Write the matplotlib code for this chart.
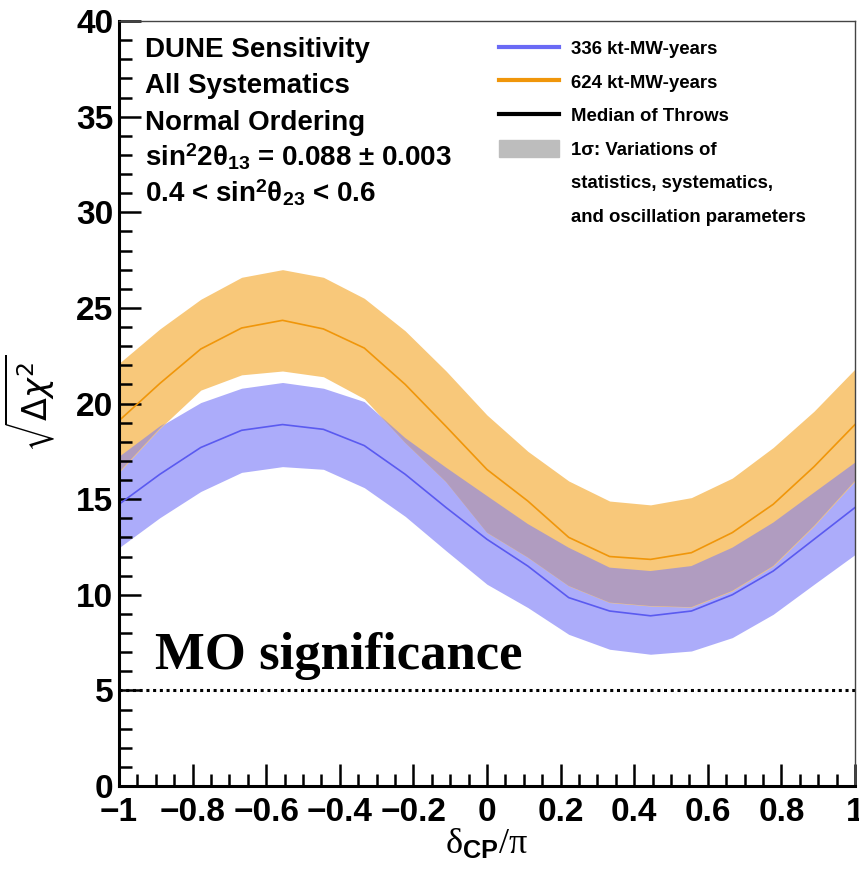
import numpy as np
import matplotlib
matplotlib.use("Agg")
import matplotlib.pyplot as plt
from matplotlib.lines import Line2D
from matplotlib.patches import Patch

plt.rcParams['font.family'] = ['Liberation Sans', 'DejaVu Sans']
plt.rcParams['mathtext.fontset'] = 'custom'
plt.rcParams['mathtext.rm'] = 'Liberation Serif'
plt.rcParams['mathtext.it'] = 'Liberation Serif:italic'
plt.rcParams['mathtext.bf'] = 'Liberation Sans:bold'
plt.rcParams['mathtext.sf'] = 'Liberation Sans'

# delta_CP / pi grid (19 points)
delta = np.linspace(-1, 1, 19)

# 624 kt-MW-years
orange_mid = [19.1, 21.05, 22.85, 23.95, 24.35, 23.9, 22.9, 21.0, 18.8, 16.55,
              14.9, 13.0, 12.0, 11.85, 12.2, 13.25, 14.73, 16.7, 18.9]
orange_hi = [22.1, 23.9, 25.45, 26.6, 27.0, 26.6, 25.5, 23.8, 21.7, 19.4,
             17.5, 15.95, 14.9, 14.7, 15.08, 16.1, 17.7, 19.6, 21.8]
orange_lo = [16.4, 18.7, 20.7, 21.5, 21.7, 21.4, 20.25, 17.95, 15.9, 13.25,
             11.95, 10.46, 9.59, 9.41, 9.35, 10.2, 11.5, 13.6, 15.95]

# 336 kt-MW-years
blue_mid = [14.73, 16.3, 17.7, 18.6, 18.9, 18.65, 17.8, 16.3, 14.56, 12.9,
            11.5, 9.85, 9.15, 8.9, 9.15, 10.0, 11.24, 12.9, 14.56]
blue_hi = [17.2, 18.8, 20.05, 20.8, 21.1, 20.8, 20.1, 18.2, 16.65, 15.17,
           13.7, 12.46, 11.42, 11.24, 11.5, 12.46, 13.77, 15.34, 16.9]
blue_lo = [12.46, 14.03, 15.4, 16.4, 16.7, 16.56, 15.6, 14.1, 12.3, 10.55,
           9.33, 7.93, 7.15, 6.89, 7.06, 7.76, 8.98, 10.55, 12.1]

mo_level = 5

fig = plt.figure(figsize=(8.59, 8.69), dpi=100)
ax = fig.add_axes([0.1385, 0.0955, 0.8568, 0.8803])

ax.fill_between(delta, blue_lo, blue_hi, color='#acacfa', lw=0)
ax.fill_between(delta, orange_lo, orange_hi, color='#f8c87a', lw=0)
bh = np.array(blue_hi)
ol = np.array(orange_lo)
ax.fill_between(delta, ol, bh, where=bh > ol, interpolate=True, color='#b09cc0', lw=0)
ax.plot(delta, blue_mid, color='#5a5af0', lw=1.2)
ax.plot(delta, orange_mid, color='#f0960a', lw=1.2)

ax.axhline(mo_level, color='black', ls=(0, (1, 1.2)), lw=2.2)

ax.set_xlim(-1, 1)
ax.set_ylim(0, 40)
ax.set_xticks(np.arange(-1, 1.01, 0.2))
ax.set_xticks(np.arange(-1, 1.01, 0.05), minor=True)
ax.set_yticks(np.arange(0, 41, 5))
ax.set_yticks(np.arange(0, 41, 1), minor=True)
ax.set_xticklabels(['\u22121', '\u22120.8', '\u22120.6', '\u22120.4', '\u22120.2',
                    '0', '0.2', '0.4', '0.6', '0.8', '1'])
ax.tick_params(which='both', direction='in', top=False, right=False, width=1.8)
ax.tick_params(which='major', length=16, labelsize=24)
ax.tick_params(axis='y', which='major', pad=4)
ax.tick_params(axis='x', which='major', pad=8)
ax.tick_params(which='minor', length=9)
for lab in ax.get_xticklabels() + ax.get_yticklabels():
    lab.set_fontweight('bold')

for s in ['left', 'bottom']:
    ax.spines[s].set_linewidth(2.2)
for s in ['top', 'right']:
    ax.spines[s].set_linewidth(1.0)
    ax.spines[s].set_color('#444444')

ax.set_xlabel(r'$\mathrm{\delta}_{\mathbf{CP}}\mathrm{/\pi}$', fontsize=26)
ax.xaxis.set_label_coords(0.5, -0.054)
ax.set_ylabel(r'$\sqrt{\Delta\chi^{2}}$', fontsize=24, math_fontfamily='dejavusans')
ax.yaxis.set_label_coords(-0.084, 0.5)

info = ['DUNE Sensitivity', 'All Systematics', 'Normal Ordering',
        'sin$^{\\mathbf{2}}$2\u03b8$_{\\mathbf{13}}$ = 0.088 \u00b1 0.003',
        '0.4 < sin$^{\\mathbf{2}}$\u03b8$_{\\mathbf{23}}$ < 0.6']
for i, t in enumerate(info):
    ax.text(0.035, 0.953 - i * 0.0475, t, transform=ax.transAxes, fontsize=20,
            fontweight='bold', va='baseline', ha='left')

ax.text(-0.902, 6.1, 'MO significance', fontsize=38, fontweight='bold',
        family='Liberation Serif', va='baseline', ha='left')

handles = [Line2D([], [], color='#6a6af5', lw=3),
           Line2D([], [], color='#f0960a', lw=3),
           Line2D([], [], color='black', lw=3),
           Patch(color='#bdbdbd'),
           Line2D([], [], color='none'),
           Line2D([], [], color='none')]
labels = ['336 kt-MW-years', '624 kt-MW-years', 'Median of Throws',
          '1\u03c3: Variations of', 'statistics, systematics,',
          'and oscillation parameters']
ax.legend(handles, labels, loc='upper left', bbox_to_anchor=(0.517, 0.976),
          frameon=False, prop={'weight': 'bold', 'size': 13.4},
          handlelength=3.2, handleheight=1.0, handletextpad=0.65,
          labelspacing=0.8, borderpad=0, borderaxespad=0)

fig.savefig('out.png', dpi=100)
